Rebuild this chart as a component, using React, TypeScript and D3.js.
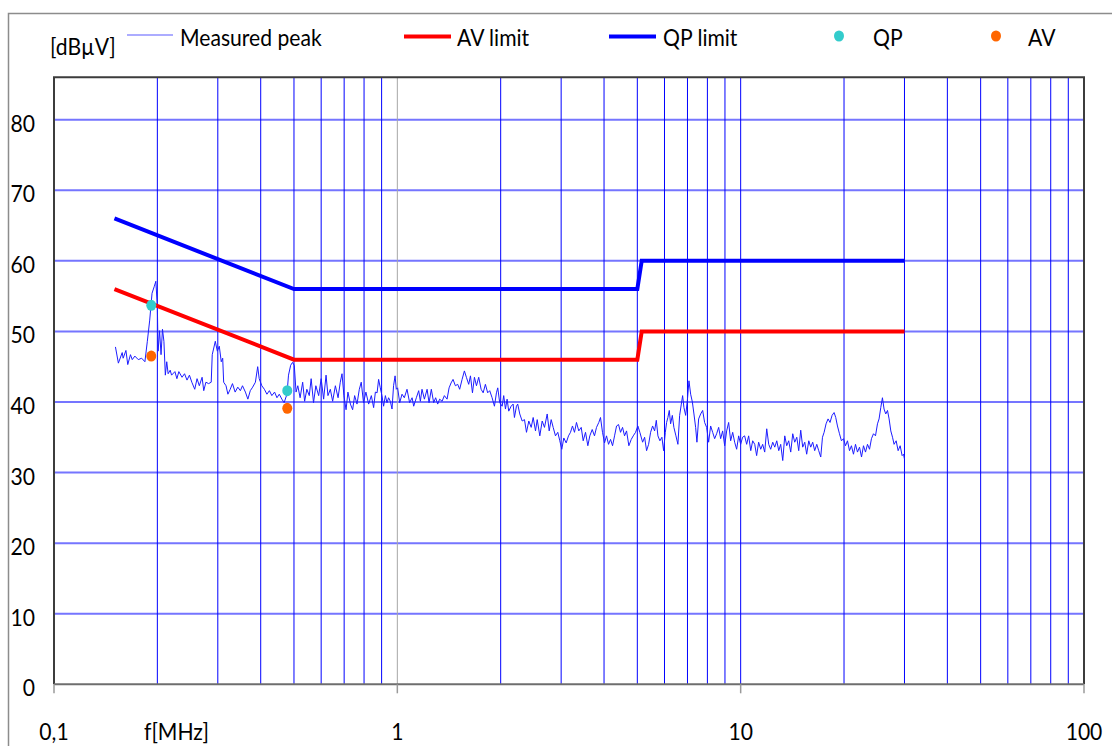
import React, { useEffect, useRef } from 'react';
import * as d3 from 'd3';

// measured peak trace, frequency in MHz and level in dBµV
const peakFreq = [
  0.151, 0.154, 0.158, 0.159, 0.162, 0.164, 0.167, 0.169, 0.172, 0.176, 0.180, 0.184, 0.187, 0.190, 0.193, 0.196,
  0.198, 0.200, 0.201, 0.203, 0.205, 0.207, 0.209, 0.211, 0.213, 0.215, 0.218, 0.220, 0.225, 0.228, 0.231, 0.236,
  0.240, 0.244, 0.248, 0.252, 0.257, 0.261, 0.265, 0.270, 0.273, 0.277, 0.282, 0.287, 0.289, 0.295, 0.299, 0.303,
  0.307, 0.310, 0.312, 0.317, 0.321, 0.326, 0.331, 0.337, 0.343, 0.349, 0.354, 0.361, 0.367, 0.373, 0.379, 0.386,
  0.392, 0.396, 0.403, 0.410, 0.417, 0.424, 0.431, 0.439, 0.446, 0.453, 0.461, 0.468, 0.477, 0.482, 0.489, 0.495,
  0.501, 0.507, 0.513, 0.521, 0.530, 0.537, 0.545, 0.554, 0.561, 0.570, 0.579, 0.590, 0.600, 0.610, 0.620, 0.628,
  0.638, 0.648, 0.660, 0.672, 0.682, 0.690, 0.699, 0.709, 0.718, 0.730, 0.741, 0.751, 0.763, 0.775, 0.785, 0.797,
  0.810, 0.825, 0.840, 0.853, 0.863,
  0.873, 0.882, 0.892, 0.902, 0.912, 0.923, 0.933, 0.943, 0.954, 0.965, 0.975, 0.985, 0.993, 1.002, 1.016, 1.032,
  1.048, 1.067, 1.086, 1.104, 1.116, 1.136, 1.154, 1.167, 1.180, 1.199, 1.221, 1.237, 1.256, 1.276, 1.293, 1.311,
  1.328, 1.350, 1.371, 1.396, 1.415, 1.434, 1.453, 1.476, 1.499, 1.519, 1.544, 1.568, 1.589, 1.614, 1.633, 1.655,
  1.677, 1.700, 1.726, 1.754, 1.778, 1.805, 1.833, 1.858, 1.888, 1.918, 1.944, 1.961, 1.987, 2.020, 2.041, 2.065,
  2.088, 2.111, 2.145, 2.174, 2.193, 2.223, 2.242, 2.273, 2.310, 2.346, 2.378, 2.415, 2.454, 2.487, 2.526, 2.555,
  2.600, 2.642, 2.683, 2.732, 2.769, 2.806, 2.844, 2.888, 2.933, 2.973, 3.013, 3.054, 3.103, 3.152, 3.194, 3.237,
  3.281, 3.325, 3.377, 3.432, 3.478, 3.533, 3.588, 3.636, 3.695, 3.752, 3.803, 3.862, 3.906, 3.959, 4.013, 4.067,
  4.123, 4.178, 4.235, 4.292, 4.350, 4.409, 4.468, 4.529, 4.590, 4.652, 4.724, 4.801, 4.866, 4.942, 5.018, 5.086,
  5.181, 5.251, 5.321, 5.394, 5.466, 5.540, 5.615, 5.679, 5.741, 5.818, 5.897, 5.964, 6.033, 6.086, 6.138, 6.196,
  6.251, 6.323, 6.390, 6.478, 6.565, 6.641, 6.717, 6.776, 6.836, 6.915, 6.994, 7.070, 7.150, 7.233, 7.310, 7.393,
  7.458, 7.544, 7.646, 7.750, 7.852, 7.960, 8.067, 8.176, 8.288, 8.399, 8.511, 8.628, 8.744, 8.862, 8.983, 9.104,
  9.226, 9.350, 9.478, 9.605, 9.734, 9.867, 10.00, 10.13, 10.27, 10.41, 10.55, 10.70, 10.84, 10.99, 11.13, 11.28,
  11.44, 11.59, 11.75, 11.91, 12.07, 12.23, 12.40, 12.57, 12.74, 12.91, 13.08, 13.26, 13.44, 13.62, 13.80, 13.99,
  14.18, 14.37, 14.57, 14.76, 14.96, 15.16, 15.37, 15.57, 15.79, 16.00, 16.21, 16.43, 16.66, 16.88, 17.11, 17.31,
  17.50, 17.73, 17.97, 18.21, 18.46, 18.71, 18.92, 19.14, 19.40, 19.66, 19.93, 20.20, 20.47, 20.75, 21.02, 21.31,
  21.60, 21.89, 22.19, 22.49, 22.79, 23.10, 23.41, 23.73, 24.04, 24.37, 24.70, 25.03, 25.30, 25.59, 25.88, 26.16,
  26.46, 26.77, 27.06, 27.37, 27.69, 27.98, 28.37, 28.75, 29.14, 29.53, 29.81, 30.00,
];

const peakLevel = [
  47.8, 45.5, 47.0, 46.2, 47.3, 45.3, 46.7, 46.0, 46.5, 46.0, 46.2, 45.7, 48.6, 51.6, 55.4, 56.4,
  57.1, 53.5, 47.2, 50.1, 46.7, 50.3, 48.6, 43.8, 45.7, 44.0, 44.5, 43.8, 44.3, 43.3, 44.3, 43.5,
  44.0, 43.1, 43.8, 42.8, 41.8, 43.3, 42.3, 43.5, 41.6, 42.8, 42.6, 42.8, 46.7, 48.6, 47.2, 47.9,
  45.7, 46.2, 42.8, 42.3, 41.1, 41.8, 42.6, 41.4, 42.1, 41.6, 42.3, 41.4, 40.4, 41.6, 42.1, 42.8,
  45.0, 43.3, 42.3, 41.8, 41.1, 41.6, 40.9, 41.4, 40.6, 41.1, 40.4, 39.9, 41.1, 43.8, 45.2, 45.6,
  45.2, 41.4, 42.3, 40.6, 42.8, 40.1, 41.8, 40.9, 43.3, 39.9, 42.3, 40.9, 43.3, 40.4, 43.8, 40.9,
  41.8, 40.1, 42.3, 40.6, 42.8, 44.0, 40.9, 38.9, 41.4, 39.7, 38.9, 40.9, 39.7, 41.8, 42.8, 39.9,
  41.4, 39.7, 40.9, 39.2, 41.4,
  41.3, 43.2, 42.0, 40.9, 39.4, 40.9, 39.9, 40.6, 40.1, 39.0, 42.3, 43.7, 41.8, 42.0, 39.9, 41.1,
  40.6, 41.8, 39.9, 40.6, 39.4, 40.6, 41.6, 40.1, 41.8, 40.4, 41.8, 39.9, 41.8, 39.9, 40.6, 39.7,
  40.4, 40.1, 40.9, 40.4, 42.0, 42.7, 43.2, 42.3, 42.5, 41.8, 43.2, 44.4, 43.5, 42.5, 43.7, 41.3,
  43.5, 42.3, 43.5, 41.8, 41.3, 42.5, 41.3, 41.6, 40.6, 39.4, 41.3, 42.0, 39.9, 39.4, 40.9, 39.0,
  40.4, 38.7, 39.4, 39.7, 37.8, 39.4, 39.7, 38.3, 37.3, 37.5, 35.7, 37.3, 36.4, 37.8, 35.9, 37.5,
  35.2, 37.3, 36.4, 38.3, 35.9, 37.5, 36.4, 35.2, 35.7, 34.5, 33.3, 34.9, 34.2, 35.2, 35.7, 36.6,
  35.7, 37.1, 35.9, 36.4, 34.5, 35.7, 33.8, 35.2, 36.1, 35.2, 36.4, 37.1, 37.8, 35.7, 34.2, 35.2,
  34.0, 34.7, 33.8, 35.2, 36.6, 36.8, 35.7, 36.4, 35.2, 35.9, 33.8, 34.7, 35.2, 35.7, 36.6, 35.7,
  34.3, 35.0, 33.1, 34.0, 35.7, 36.6, 35.9, 37.4, 35.2, 34.5, 35.0, 33.1, 35.7, 37.1, 37.8, 38.8,
  36.9, 38.1, 36.4, 35.2, 34.0, 38.1, 39.7, 40.9, 39.2, 38.1, 40.2, 43.0, 41.1, 40.0, 38.3, 36.4,
  34.3, 37.6, 38.3, 38.8, 37.1, 36.4, 34.3, 36.6, 35.7, 34.8, 35.5, 36.4, 34.8, 35.9, 33.8, 35.9,
  37.1, 34.5, 35.7, 34.3, 33.3, 35.2, 34.0, 35.0, 35.2, 34.0, 35.2, 33.1, 34.5, 34.0, 32.4, 34.3,
  33.3, 34.0, 32.9, 36.2, 34.0, 33.3, 34.3, 33.6, 34.5, 33.1, 34.0, 31.7, 35.2, 33.8, 34.5, 32.9,
  35.5, 34.3, 35.0, 33.1, 36.0, 33.6, 34.3, 32.6, 34.5, 33.6, 34.3, 33.1, 34.0, 33.1, 32.2, 35.0,
  35.7, 36.9, 37.6, 37.1, 38.1, 38.5, 37.8, 36.6, 35.5, 34.5, 34.8, 33.8, 34.5, 33.1, 33.8, 32.6,
  34.0, 32.9, 33.6, 32.2, 33.8, 32.9, 34.0, 33.3, 34.8, 35.5, 35.2, 36.9, 37.6, 39.2, 40.6, 39.0,
  38.3, 38.8, 37.6, 35.9, 35.0, 34.0, 34.5, 33.1, 33.8, 32.4, 32.6, 31.9,
];

// limit lines
const limitFreq = [0.15, 0.5, 5, 5.15, 30];
const avLimit = [56, 46, 46, 50, 50];
const qpLimit = [66, 56, 56, 60, 60];

// quasi-peak and average detector results
const markerFreq = [0.192, 0.478];
const qpLevel = [53.7, 41.6];
const avLevel = [46.5, 39.1];

const yTicks = [0, 10, 20, 30, 40, 50, 60, 70, 80];
const xLabelTicks = [0.1, 1, 10, 100];
const xLabels = ['0,1', '1', '10', '100'];

const legendNames = ['Measured peak', 'AV limit', 'QP limit', 'QP', 'AV'];

const FONT = 'Lato, "Open Sans", sans-serif';

export default function App() {
  const svgRef = useRef<SVGSVGElement>(null);

  const left = 54, right = 1084, top = 77.3, bottom = 684.3;

  useEffect(() => {
    const svg = d3.select(svgRef.current);
    svg.selectAll('*').remove();

    const x = d3.scaleLog().domain([0.1, 100]).range([left, right]);
    const y = d3.scaleLinear().domain([0, 86]).range([bottom, top]);

    // outer chart frame
    svg.append('rect')
      .attr('x', 8.5).attr('y', 13.5)
      .attr('width', 1200).attr('height', 800)
      .attr('fill', 'none').attr('stroke', '#8c8c8c').attr('stroke-width', 1.5);

    // grid
    const grid = svg.append('g');
    grid.selectAll('line.h')
      .data(yTicks.filter(d => d > 0))
      .join('line')
      .attr('x1', left).attr('x2', right)
      .attr('y1', d => y(d)).attr('y2', d => y(d))
      .attr('stroke', '#7575ff').attr('stroke-width', 2);
    grid.selectAll('line.v')
      .data(x.ticks().filter(d => d > 0.1 && d < 100))
      .join('line')
      .attr('x1', d => x(d)).attr('x2', d => x(d))
      .attr('y1', top).attr('y2', bottom)
      .attr('stroke', d => (Math.abs(d - 1) < 1e-9 ? '#a6a6a6' : '#0000ff'))
      .attr('stroke-width', 1);

    // frame of plot area
    svg.append('path')
      .attr('d', `M${left},${bottom}V${top}H${right}V${bottom}`)
      .attr('fill', 'none').attr('stroke', '#3c3c3c').attr('stroke-width', 2);
    svg.append('line')
      .attr('x1', left).attr('x2', right).attr('y1', bottom).attr('y2', bottom)
      .attr('stroke', '#6e6e6e').attr('stroke-width', 2);
    svg.selectAll('line.tick')
      .data(xLabelTicks)
      .join('line')
      .attr('x1', d => x(d)).attr('x2', d => x(d))
      .attr('y1', bottom).attr('y2', bottom + 9)
      .attr('stroke', '#9a9a9a').attr('stroke-width', 1.5);

    // axis labels
    const textG = svg.append('g').attr('font-family', FONT).attr('font-size', 24).attr('fill', '#000');
    textG.selectAll('text.y')
      .data(yTicks)
      .join('text')
      .attr('text-anchor', 'end')
      .attr('transform', d => `translate(35,${y(d) + 12}) scale(0.88,1)`)
      .text(d => d);
    textG.selectAll('text.x')
      .data(xLabelTicks)
      .join('text')
      .attr('text-anchor', 'middle')
      .attr('transform', d => `translate(${x(d)},740) scale(0.88,1)`)
      .text((d, i) => xLabels[i]);
    textG.append('text').attr('transform', 'translate(144,740) scale(0.88,1)').text('f[MHz]');
    textG.append('text').attr('transform', 'translate(50,55) scale(0.88,1)').text('[dBµV]');

    // series
    const line = d3.line<number>().x((d, i) => x(limitFreq[i])).y(d => y(d));
    const peakLine = d3.line<number>().x((d, i) => x(peakFreq[i])).y(d => y(d));

    svg.append('path')
      .attr('d', peakLine(peakLevel))
      .attr('fill', 'none').attr('stroke', '#1c1cff').attr('stroke-width', 1)
      .attr('stroke-linejoin', 'round');
    svg.append('path')
      .attr('d', line(avLimit))
      .attr('fill', 'none').attr('stroke', '#ff0000').attr('stroke-width', 4);
    svg.append('path')
      .attr('d', line(qpLimit))
      .attr('fill', 'none').attr('stroke', '#0000ff').attr('stroke-width', 4);

    svg.selectAll('ellipse.qp')
      .data(qpLevel)
      .join('ellipse')
      .attr('cx', (d, i) => x(markerFreq[i])).attr('cy', d => y(d))
      .attr('rx', 5).attr('ry', 5.5).attr('fill', '#33cccc');
    svg.selectAll('ellipse.av')
      .data(avLevel)
      .join('ellipse')
      .attr('cx', (d, i) => x(markerFreq[i])).attr('cy', d => y(d))
      .attr('rx', 5).attr('ry', 5.5).attr('fill', '#ff6600');

    // legend
    const lg = svg.append('g').attr('font-family', FONT).attr('font-size', 24);
    const legendX = [127, 404, 609, 839, 996];
    const textX = [180, 457, 663, 873, 1028];
    legendNames.forEach((name, i) => {
      if (i === 0) {
        lg.append('line').attr('x1', legendX[i]).attr('x2', legendX[i] + 46).attr('y1', 35).attr('y2', 35)
          .attr('stroke', '#5a5aff').attr('stroke-width', 1.2);
      } else if (i < 3) {
        lg.append('line').attr('x1', legendX[i]).attr('x2', legendX[i] + 47).attr('y1', 36.5).attr('y2', 36.5)
          .attr('stroke', i === 1 ? '#ff0000' : '#0000ff').attr('stroke-width', 4);
      } else {
        lg.append('ellipse').attr('cx', legendX[i]).attr('cy', 36).attr('rx', 5).attr('ry', 5.5)
          .attr('fill', i === 3 ? '#33cccc' : '#ff6600');
      }
      lg.append('text').attr('transform', `translate(${textX[i]},46) scale(0.88,1)`).text(name);
    });
  }, []);

  return (
    <svg
      ref={svgRef}
      width={1112}
      height={746}
      style={{ position: 'fixed', left: 0, top: 0, background: '#fff' }}
    />
  );
}
